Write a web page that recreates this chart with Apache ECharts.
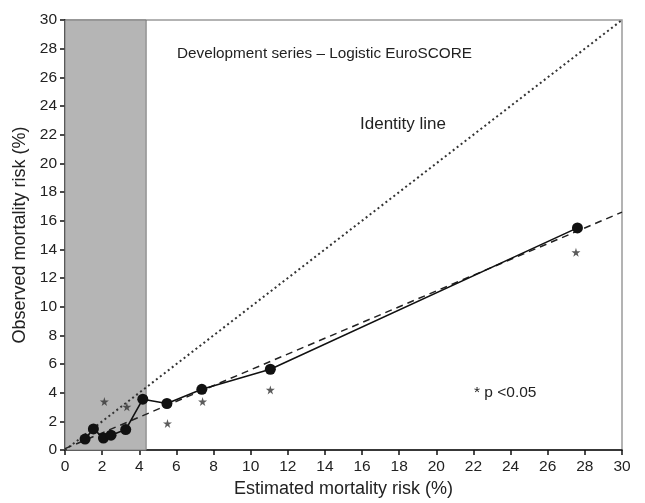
<!DOCTYPE html>
<html>
<head>
<meta charset="utf-8">
<script src="https://cdn.jsdelivr.net/npm/echarts@6/dist/echarts.min.js"></script>
<style>
	html, body { margin: 0; padding: 0; background: #fff; }
	#chart { width: 645px; height: 503px; }
</style>
</head>
<body>
<div id="chart"></div>
<script>
// 관측값 (estimated vs observed)
var estimated = [1.08, 1.53, 2.07, 2.48, 3.27, 4.19, 5.49, 7.37, 11.06, 27.6];
var observed = [0.77, 1.48, 0.84, 1.04, 1.43, 3.55, 3.25, 4.24, 5.64, 15.5];

// p<0.05 별표
var starX = [2.12, 3.33, 5.52, 7.41, 11.06, 27.52];
var starY = [3.39, 3.02, 1.86, 3.39, 4.2, 13.8];

// 기준선들
var identityLine = [[0, 0], [30, 30]];
var fitLine = [[0, 0.1], [30, 16.6]];
var goodFitMax = 4.37;

var FONT = 'Liberation Sans, Arial, sans-serif';

function pairs(xs, ys) {
	var out = [];
	for (var i = 0; i < xs.length; i++) out.push([xs[i], ys[i]]);
	return out;
}

var starPath = 'path://M50,0 L61,35 L98,35 L68,57 L79,91 L50,70 L21,91 L32,57 L2,35 L39,35 Z';

function showChart() {
	var chart = echarts.init(document.getElementById('chart'));
	var option = {
		animation: false,
		grid: {
			left: 65, right: 23, top: 20, bottom: 52,
			show: true,
			borderColor: '#9a9a9a',
			borderWidth: 1.5
		},
		xAxis: {
			type: 'value',
			min: 0, max: 30, interval: 2,
			name: 'Estimated mortality risk (%)',
			nameLocation: 'middle',
			nameGap: 27,
			nameTextStyle: { fontFamily: FONT, fontSize: 18, color: '#222' },
			axisLine: { lineStyle: { color: '#111', width: 1.5 } },
			axisTick: { length: 5, lineStyle: { color: '#111', width: 1.5 } },
			axisLabel: { fontFamily: FONT, fontSize: 15.5, color: '#222', margin: 9 },
			splitLine: { show: false }
		},
		yAxis: {
			type: 'value',
			min: 0, max: 30, interval: 2,
			name: 'Observed mortality risk (%)',
			nameLocation: 'middle',
			nameGap: 36,
			nameRotate: 90,
			nameTextStyle: { fontFamily: FONT, fontSize: 18, color: '#222' },
			axisLine: { lineStyle: { color: '#111', width: 1.5 } },
			axisTick: { length: 5, lineStyle: { color: '#111', width: 1.5 } },
			axisLabel: { fontFamily: FONT, fontSize: 15.5, color: '#222', margin: 8 },
			splitLine: { show: false }
		},
		graphic: [
			{ type: 'text', left: 177, top: 46, style: { text: 'Development series \u2013 Logistic EuroSCORE', font: '15.3px ' + FONT, fill: '#222' } },
			{ type: 'text', left: 360, top: 116, style: { text: 'Identity line', font: '17px ' + FONT, fill: '#222' } },
			{ type: 'text', left: 105, top: 205, style: { text: 'Good\nfit\narea', font: '16px ' + FONT, fill: '#222', textAlign: 'center', lineHeight: 21 } },
			{ type: 'text', left: 474, top: 385, style: { text: '* p <0.05', font: '15.5px ' + FONT, fill: '#222' } }
		],
		series: [
			{
				type: 'line',
				data: identityLine,
				symbol: 'none',
				z: 3,
				lineStyle: { color: '#333', width: 2, type: [2, 3] },
				markArea: {
					silent: true,
					itemStyle: { color: '#b5b5b5', borderColor: '#7a7a7a', borderWidth: 1 },
					data: [[{ xAxis: 0, yAxis: 0 }, { xAxis: goodFitMax, yAxis: 30 }]]
				}
			},
			{
				type: 'line',
				data: fitLine,
				symbol: 'none',
				z: 3,
				lineStyle: { color: '#222', width: 1.5, type: [7, 5] }
			},
			{
				type: 'line',
				data: pairs(estimated, observed),
				symbol: 'circle',
				symbolSize: 11,
				z: 4,
				itemStyle: { color: '#111' },
				lineStyle: { color: '#111', width: 1.6 }
			},
			{
				type: 'scatter',
				data: pairs(starX, starY),
				symbol: starPath,
				symbolSize: 9,
				z: 4,
				itemStyle: { color: '#333' }
			}
		]
	};
	chart.setOption(option);
}

showChart();
</script>
</body>
</html>
